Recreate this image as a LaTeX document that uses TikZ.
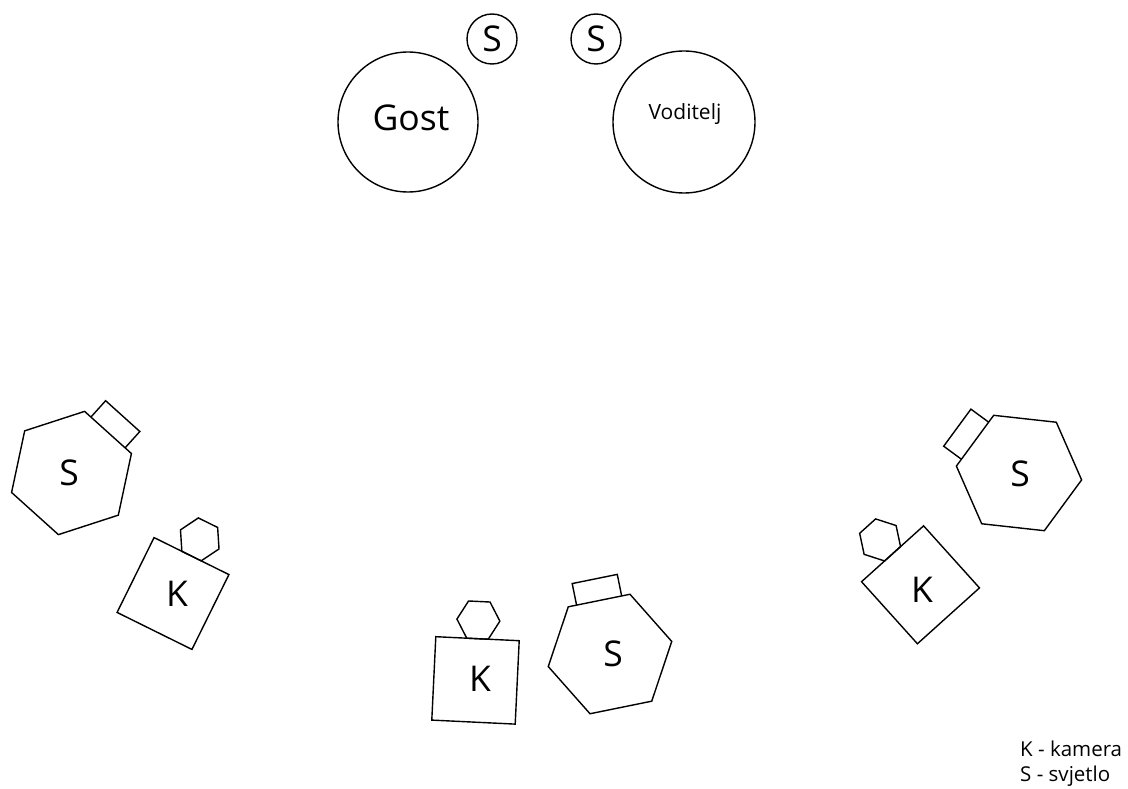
\documentclass[tikz,border=0pt]{standalone}
\usepackage{fontspec}
\setmainfont{Open Sans}
\begin{document}
\begin{tikzpicture}[x=1pt,y=-1pt,
  shape line/.style={draw=black, line width=1.4pt, line join=miter},
  bigtxt/.style={font=\fontsize{35.5}{40}\selectfont, inner sep=0pt},
  midtxt/.style={font=\fontsize{21}{24}\selectfont, inner sep=0pt},
  legtxt/.style={font=\fontsize{20.5}{25}\selectfont, inner sep=0pt, anchor=base west},
  person/.style={shape line, circle, minimum size=140pt, inner sep=0pt},
  lamp/.style={shape line, circle, minimum size=50pt, inner sep=0pt}]
\useasboundingbox (0,0) rectangle (1128,789);

% people and small lights
\node[person] (gostc) at (408,122) {};
\node[bigtxt] (gost) at (411,118) {Gost};
\node[person, minimum size=142pt] (vodc) at (684,122) {};
\node[midtxt] (vod) at (685,114) {Voditelj};
\node[lamp] (s1) at (492,39) {};
\node[bigtxt] (s1t) at (492,39) {S};
\node[lamp] (s2) at (596,39) {};
\node[bigtxt] (s2t) at (596,39) {S};

% lights (hexagon with rectangle)
\foreach \cx/\cy/\rot in {71.5/473/-42, 610/654/11.5, 1019/473/53.7}{
  \begin{scope}[shift={(\cx,\cy)}, rotate=\rot]
    \draw[shape line] (0:63pt) -- (60:63pt) -- (120:63pt) -- (180:63pt) -- (240:63pt) -- (300:63pt) -- cycle;
    \draw[shape line] (-23pt,54.56pt) -- (-23pt,76.56pt) -- (23pt,76.56pt) -- (23pt,54.56pt);
  \end{scope}
}
% cameras (square with small hexagon)
\foreach \cx/\cy/\rot in {173/593.5/-26.3, 475.5/680.4/-2.75, 920.5/584.8/42}{
  \begin{scope}[shift={(\cx,\cy)}, rotate=\rot]
    \draw[shape line] (-41.75pt,-41.75pt) rectangle (41.75pt,41.75pt);
    \begin{scope}[shift={(0pt,60.37pt)}]
      \draw[shape line] (0:21.5pt) -- (60:21.5pt) -- (120:21.5pt) -- (180:21.5pt) -- (240:21.5pt) -- (300:21.5pt) -- cycle;
    \end{scope}
  \end{scope}
}
\node[bigtxt] (ls) at (69,473) {S};
\node[bigtxt] (lk) at (177,594) {K};
\node[bigtxt] (bk) at (480,679) {K};
\node[bigtxt] (bs) at (613,654) {S};
\node[bigtxt] (rs) at (1020,474) {S};
\node[bigtxt] (rk) at (922,590) {K};

% legend
\node[legtxt] (leg1) at (1020,756.7) {K - kamera};
\node[legtxt] (leg2) at (1020,781.7) {S - svjetlo};
\end{tikzpicture}
\end{document}
